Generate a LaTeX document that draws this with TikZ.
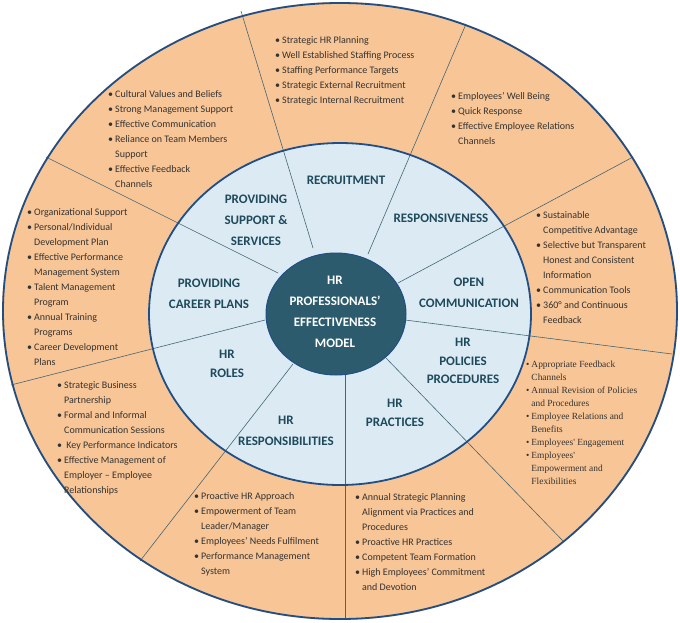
\documentclass[tikz,border=0pt]{standalone}
\usetikzlibrary{shapes.geometric}
\usepackage{fontspec}
\setmainfont{Carlito}
\newfontfamily\serifb{Liberation Serif}
\definecolor{org}{HTML}{F8C596}
\definecolor{lblue}{HTML}{DCEBF3}
\definecolor{teal}{HTML}{2C5B6E}
\definecolor{edge}{HTML}{1F4F86}
\definecolor{lab}{HTML}{1E4A5C}
\definecolor{txt}{HTML}{333333}
\newcommand{\bu}{\textbullet}
\newcommand{\lst}[1]{{\fontsize{10}{15}\selectfont\begin{tabular}{@{}l@{\hspace{2pt}}l@{}}#1\end{tabular}}}
\newcommand{\slst}[1]{{\serifb\fontsize{9.4}{13}\selectfont\begin{tabular}{@{}l@{\hspace{2pt}}l@{}}#1\end{tabular}}}
\begin{document}
\begin{tikzpicture}[x=1pt,y=-1pt,
  ring/.style={draw=edge,line width=1.8pt},
  spoke/.style={draw=teal!70!gray,line width=0.6pt},
  lbl/.style={font=\fontsize{13}{21}\selectfont\bfseries,text=lab,align=center},
  lst/.style={anchor=north west,text=txt,inner sep=0pt}]
\useasboundingbox (0,0) rectangle (680,623);
\fill[org] (340,311) ellipse [x radius=338,y radius=309];
\fill[lblue] (340,314) ellipse [x radius=191,y radius=171];
\coordinate (c) at (336,314);
\coordinate (o1) at (241,11); \coordinate (o2) at (466,24); \coordinate (o3) at (633,157);
\coordinate (o4) at (672,354); \coordinate (o5) at (564,542); \coordinate (o6) at (345,620);
\coordinate (o7) at (140,561); \coordinate (o8) at (11,385); \coordinate (o9) at (46,157);
\coordinate (i1) at (313,248); \coordinate (i2) at (368,254); \coordinate (i3) at (398,283);
\coordinate (i4) at (405,320); \coordinate (i5) at (386,358); \coordinate (i6) at (345,375);
\coordinate (i7) at (293,364); \coordinate (i8) at (265,320); \coordinate (i9) at (278,273);
\foreach \k in {1,...,9}{\draw[spoke] (i\k) -- (o\k);}
\draw[ring] (340,314) ellipse [x radius=191,y radius=171];
\draw[ring] (340,311) ellipse [x radius=337,y radius=308];
\node[ellipse,fill=teal,draw=edge,line width=1pt,minimum width=140pt,minimum height=122pt] (hub) at (c) {};
\node[font=\fontsize{13}{21}\selectfont\bfseries,text=white,align=center] (ht) at (335,312) {HR\\PROFESSIONALS'\\EFFECTIVENESS\\MODEL};
\node[lbl] (r1) at (346,180) {RECRUITMENT};
\node[lbl] (r2) at (256,220) {PROVIDING\\SUPPORT \&\\SERVICES};
\node[lbl] (r3) at (441,218) {RESPONSIVENESS};
\node[lbl] (r4) at (209,294) {PROVIDING\\CAREER PLANS};
\node[lbl] (r5) at (469,293) {OPEN\\COMMUNICATION};
\node[lbl,font=\fontsize{13}{18.5}\selectfont\bfseries] (r6) at (463,361) {HR\\POLICIES\\PROCEDURES};
\node[lbl,font=\fontsize{13}{18.5}\selectfont\bfseries] (r7) at (227,364) {HR\\ROLES};
\node[lbl,font=\fontsize{13}{18.5}\selectfont\bfseries] (r8) at (395,413) {HR\\PRACTICES};
\node[lbl] (r9) at (286,431) {HR\\RESPONSIBILITIES};
\node[lst] (l1) at (275,33) {\lst{\bu&Strategic HR Planning\\\bu&Well Established Staffing Process\\\bu&Staffing Performance Targets\\\bu&Strategic External Recruitment\\\bu&Strategic Internal Recruitment}};
\node[lst] (l2) at (108,87) {\lst{\bu&Cultural Values and Beliefs\\\bu&Strong Management Support\\\bu&Effective Communication\\\bu&Reliance on Team Members\\&Support\\\bu&Effective Feedback\\&Channels}};
\node[lst] (l3) at (451,89) {\lst{\bu&Employees' Well Being\\\bu&Quick Response\\\bu&Effective Employee Relations\\&Channels}};
\node[lst] (l4) at (536,208) {\lst{\bu&Sustainable\\&Competitive Advantage\\\bu&Selective but Transparent\\&Honest and Consistent\\&Information\\\bu&Communication Tools\\\bu&360° and Continuous\\&Feedback}};
\node[lst] (l5) at (27,205) {\lst{\bu&Organizational Support\\\bu&Personal/Individual\\&Development Plan\\\bu&Effective Performance\\&Management System\\\bu&Talent Management\\&Program\\\bu&Annual Training\\&Programs\\\bu&Career Development\\&Plans}};
\node[lst] (l6) at (526,358) {\slst{\bu&Appropriate Feedback\\&Channels\\\bu&Annual Revision of Policies\\&and Procedures\\\bu&Employee Relations and\\&Benefits\\\bu&Employees' Engagement\\\bu&Employees'\\&Empowerment and\\&Flexibilities}};
\node[lst] (l7) at (57,378) {\lst{\bu&Strategic Business\\&Partnership\\\bu&Formal and Informal\\&Communication Sessions\\\bu&\ Key Performance Indicators\\\bu&Effective Management of\\&Employer -- Employee\\&Relationships}};
\node[lst] (l8) at (194,489) {\lst{\bu&Proactive HR Approach\\\bu&Empowerment of Team\\&Leader/Manager\\\bu&Employees' Needs Fulfilment\\\bu&Performance Management\\&System}};
\node[lst] (l9) at (355,490) {\lst{\bu&Annual Strategic Planning\\&Alignment via Practices and\\&Procedures\\\bu&Proactive HR Practices\\\bu&Competent Team Formation\\\bu&High Employees' Commitment\\&and Devotion}};
\end{tikzpicture}
\end{document}
